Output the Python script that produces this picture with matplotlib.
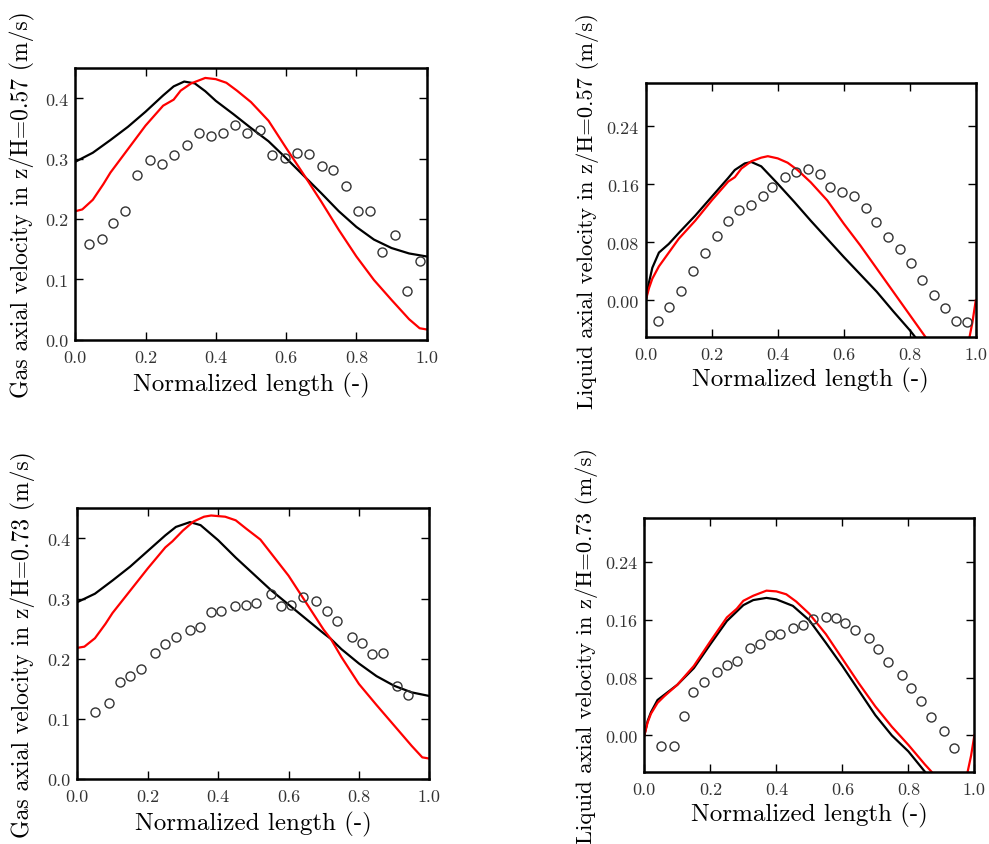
import matplotlib
matplotlib.use("Agg")
import matplotlib.pyplot as plt

plt.rcParams['font.family'] = 'cmr10'
plt.rcParams['mathtext.fontset'] = 'cm'
plt.rcParams['axes.formatter.use_mathtext'] = True

# x ticks shared by all panels
x_ticks = [0.0, 0.2, 0.4, 0.6, 0.8, 1.0]
x_ticklabels = ["0.0", "0.2", "0.4", "0.6", "0.8", "1.0"]
gas_ticks = [0.0, 0.1, 0.2, 0.3, 0.4]
gas_ticklabels = ["0.0", "0.1", "0.2", "0.3", "0.4"]
liq_ticks = [0.0, 0.08, 0.16, 0.24]
liq_ticklabels = ["0.00", "0.08", "0.16", "0.24"]

# ---- gas, z/H = 0.57 ----
gas57_exp_x = [0.039, 0.076, 0.106, 0.141, 0.177, 0.212, 0.248, 0.281, 0.318, 0.353,
               0.386, 0.420, 0.456, 0.489, 0.527, 0.561, 0.596, 0.630, 0.664, 0.701,
               0.734, 0.771, 0.804, 0.839, 0.874, 0.910, 0.945, 0.980]
gas57_exp_y = [0.159, 0.167, 0.194, 0.214, 0.273, 0.298, 0.292, 0.306, 0.323, 0.343,
               0.337, 0.343, 0.356, 0.342, 0.348, 0.307, 0.301, 0.310, 0.308, 0.288,
               0.281, 0.255, 0.214, 0.214, 0.146, 0.173, 0.081, 0.130]
gas57_blk_x = [0.0, 0.05, 0.1, 0.15, 0.2, 0.25, 0.28, 0.31, 0.34, 0.37, 0.4, 0.45, 0.5,
               0.55, 0.6, 0.65, 0.7, 0.75, 0.8, 0.85, 0.9, 0.95, 1.0]
gas57_blk_y = [0.295, 0.310, 0.331, 0.353, 0.378, 0.405, 0.420, 0.428, 0.425, 0.412, 0.396,
               0.374, 0.351, 0.329, 0.301, 0.272, 0.243, 0.213, 0.187, 0.166, 0.152, 0.143, 0.138]
gas57_red_x = [0.0, 0.02, 0.05, 0.08, 0.1, 0.15, 0.2, 0.25, 0.28, 0.3, 0.33, 0.37, 0.4,
               0.43, 0.46, 0.5, 0.55, 0.6, 0.65, 0.7, 0.75, 0.8, 0.85, 0.9, 0.95, 0.98, 1.0]
gas57_red_y = [0.213, 0.216, 0.232, 0.258, 0.277, 0.316, 0.355, 0.388, 0.398, 0.413, 0.425,
               0.434, 0.432, 0.426, 0.413, 0.394, 0.363, 0.318, 0.274, 0.229, 0.182, 0.138,
               0.099, 0.066, 0.034, 0.019, 0.017]

# ---- liquid, z/H = 0.57 ----
liq57_exp_x = [0.036, 0.072, 0.107, 0.142, 0.179, 0.215, 0.248, 0.282, 0.318, 0.354,
               0.383, 0.421, 0.456, 0.492, 0.527, 0.559, 0.595, 0.630, 0.666, 0.698,
               0.733, 0.769, 0.803, 0.838, 0.872, 0.907, 0.940, 0.975]
liq57_exp_y = [-0.029, -0.009, 0.013, 0.041, 0.065, 0.089, 0.110, 0.125, 0.131, 0.144,
               0.157, 0.170, 0.177, 0.182, 0.175, 0.156, 0.150, 0.144, 0.128, 0.108,
               0.087, 0.071, 0.051, 0.028, 0.008, -0.011, -0.028, -0.030]
liq57_blk_x = [0.0, 0.01, 0.02, 0.04, 0.07, 0.1, 0.15, 0.2, 0.25, 0.27, 0.3, 0.32, 0.35,
               0.4, 0.45, 0.5, 0.55, 0.6, 0.65, 0.7, 0.75, 0.8, 0.85, 0.9]
liq57_blk_y = [0.0, 0.025, 0.045, 0.066, 0.078, 0.093, 0.117, 0.143, 0.169, 0.180, 0.189,
               0.191, 0.185, 0.161, 0.136, 0.110, 0.085, 0.060, 0.036, 0.012, -0.015,
               -0.041, -0.07, -0.10]
liq57_red_x = [0.0, 0.01, 0.02, 0.04, 0.07, 0.1, 0.15, 0.2, 0.25, 0.27, 0.29, 0.32, 0.35,
               0.37, 0.4, 0.43, 0.46, 0.5, 0.55, 0.6, 0.65, 0.7, 0.75, 0.8, 0.85, 0.9,
               0.95, 0.975, 0.99, 1.0]
liq57_red_y = [0.0, 0.017, 0.030, 0.047, 0.066, 0.085, 0.110, 0.138, 0.164, 0.170, 0.182,
               0.192, 0.197, 0.199, 0.196, 0.190, 0.180, 0.163, 0.138, 0.106, 0.076, 0.044,
               0.012, -0.020, -0.052, -0.085, -0.095, -0.065, -0.030, 0.0]

# ---- gas, z/H = 0.73 ----
gas73_exp_x = [0.049, 0.089, 0.121, 0.150, 0.180, 0.220, 0.248, 0.281, 0.319, 0.348,
               0.379, 0.409, 0.449, 0.479, 0.508, 0.549, 0.579, 0.608, 0.640, 0.678,
               0.709, 0.739, 0.779, 0.809, 0.838, 0.868, 0.907, 0.939]
gas73_exp_y = [0.111, 0.127, 0.162, 0.172, 0.183, 0.210, 0.224, 0.236, 0.247, 0.253,
               0.278, 0.279, 0.288, 0.290, 0.293, 0.307, 0.288, 0.290, 0.302, 0.296,
               0.280, 0.263, 0.236, 0.226, 0.207, 0.210, 0.155, 0.139]
gas73_blk_x = [0.0, 0.05, 0.1, 0.15, 0.2, 0.25, 0.28, 0.32, 0.35, 0.4, 0.45, 0.5, 0.55,
               0.6, 0.65, 0.7, 0.72, 0.75, 0.8, 0.85, 0.9, 0.95, 1.0]
gas73_blk_y = [0.294, 0.308, 0.330, 0.353, 0.379, 0.405, 0.419, 0.427, 0.422, 0.397, 0.368,
               0.341, 0.314, 0.290, 0.266, 0.242, 0.233, 0.216, 0.192, 0.171, 0.155, 0.144, 0.138]
gas73_red_x = [0.0, 0.02, 0.05, 0.08, 0.1, 0.15, 0.2, 0.25, 0.27, 0.3, 0.33, 0.36, 0.38,
               0.42, 0.45, 0.48, 0.52, 0.56, 0.6, 0.65, 0.7, 0.72, 0.75, 0.8, 0.85, 0.9,
               0.95, 0.98, 1.0]
gas73_red_y = [0.218, 0.220, 0.234, 0.258, 0.276, 0.313, 0.350, 0.385, 0.395, 0.413, 0.428,
               0.436, 0.438, 0.436, 0.430, 0.416, 0.398, 0.368, 0.338, 0.293, 0.248, 0.233,
               0.203, 0.158, 0.123, 0.089, 0.055, 0.036, 0.034]

# ---- liquid, z/H = 0.73 ----
liq73_exp_x = [0.049, 0.091, 0.120, 0.148, 0.180, 0.221, 0.251, 0.280, 0.320, 0.351,
               0.381, 0.411, 0.449, 0.481, 0.510, 0.551, 0.580, 0.609, 0.639, 0.680,
               0.709, 0.739, 0.780, 0.809, 0.838, 0.869, 0.909, 0.938]
liq73_exp_y = [-0.014, -0.015, 0.027, 0.060, 0.074, 0.088, 0.097, 0.103, 0.121, 0.126,
               0.139, 0.140, 0.148, 0.153, 0.161, 0.163, 0.162, 0.155, 0.146, 0.135,
               0.119, 0.102, 0.084, 0.066, 0.047, 0.025, 0.006, -0.017]
liq73_blk_x = [0.0, 0.01, 0.02, 0.04, 0.06, 0.1, 0.15, 0.2, 0.25, 0.3, 0.33, 0.37, 0.4,
               0.45, 0.5, 0.55, 0.6, 0.65, 0.7, 0.75, 0.8, 0.85, 0.9]
liq73_blk_y = [0.0, 0.020, 0.032, 0.049, 0.056, 0.070, 0.093, 0.126, 0.158, 0.180, 0.187,
               0.190, 0.188, 0.179, 0.159, 0.128, 0.096, 0.062, 0.028, 0.0, -0.022, -0.050, -0.08]
liq73_red_x = [0.0, 0.01, 0.02, 0.04, 0.06, 0.1, 0.15, 0.2, 0.25, 0.28, 0.3, 0.33, 0.37,
               0.4, 0.43, 0.46, 0.5, 0.55, 0.6, 0.65, 0.7, 0.75, 0.8, 0.85, 0.87, 0.9,
               0.95, 0.975, 0.99, 1.0]
liq73_red_y = [0.0, 0.018, 0.030, 0.045, 0.054, 0.070, 0.096, 0.130, 0.163, 0.175, 0.186,
               0.193, 0.200, 0.199, 0.195, 0.185, 0.168, 0.140, 0.106, 0.072, 0.040, 0.012,
               -0.013, -0.040, -0.050, -0.070, -0.085, -0.060, -0.028, 0.0]


def draw_panel(ax, ex, ey, bx, by, rx, ry, ylabel, yticks, yticklabels, ylim, lab_x, lab_size):
    ax.plot(bx, by, color='black', lw=1.6)
    ax.plot(rx, ry, color='red', lw=1.6)
    ax.plot(ex, ey, 'o', mfc='none', mec='#333333', mew=1.0, ms=6.5)
    ax.set_xlim(0, 1)
    ax.set_ylim(ylim)
    ax.set_xticks(x_ticks)
    ax.set_xticklabels(x_ticklabels)
    ax.set_yticks(yticks)
    ax.set_yticklabels(yticklabels)
    ax.tick_params(direction='in', top=True, right=True, length=6, width=1,
                   labelsize=13, colors='black', labelcolor='#333333')
    ax.tick_params(axis='x', pad=7)
    ax.tick_params(axis='y', pad=5)
    for s in ax.spines.values():
        s.set_linewidth(1.8)
    ax.set_xlabel('Normalized length (-)', fontsize=18)
    ax.set_ylabel(ylabel, fontsize=lab_size)
    ax.xaxis.set_label_coords(0.5, -0.118)
    ax.yaxis.set_label_coords(lab_x, 0.5)


fig = plt.figure(figsize=(9.89, 8.45), dpi=100)

ax1 = fig.add_axes([0.0761, 0.5968, 0.3553, 0.3212])
draw_panel(ax1, gas57_exp_x, gas57_exp_y, gas57_blk_x, gas57_blk_y, gas57_red_x, gas57_red_y,
           'Gas axial velocity in z/H=0.57 (m/s)', gas_ticks, gas_ticklabels, (0, 0.45), -0.115, 17)

ax2 = fig.add_axes([0.6529, 0.6004, 0.3337, 0.3002])
draw_panel(ax2, liq57_exp_x, liq57_exp_y, liq57_blk_x, liq57_blk_y, liq57_red_x, liq57_red_y,
           'Liquid axial velocity in z/H=0.57 (m/s)', liq_ticks, liq_ticklabels, (-0.05, 0.30), -0.142, 16.3)

ax3 = fig.add_axes([0.0782, 0.0769, 0.3559, 0.3204])
draw_panel(ax3, gas73_exp_x, gas73_exp_y, gas73_blk_x, gas73_blk_y, gas73_red_x, gas73_red_y,
           'Gas axial velocity in z/H=0.73 (m/s)', gas_ticks, gas_ticklabels, (0, 0.45), -0.117, 17)

ax4 = fig.add_axes([0.6515, 0.0856, 0.3337, 0.2999])
draw_panel(ax4, liq73_exp_x, liq73_exp_y, liq73_blk_x, liq73_blk_y, liq73_red_x, liq73_red_y,
           'Liquid axial velocity in z/H=0.73 (m/s)', liq_ticks, liq_ticklabels, (-0.05, 0.30), -0.14, 16.3)

fig.savefig('out.png', dpi=100)
